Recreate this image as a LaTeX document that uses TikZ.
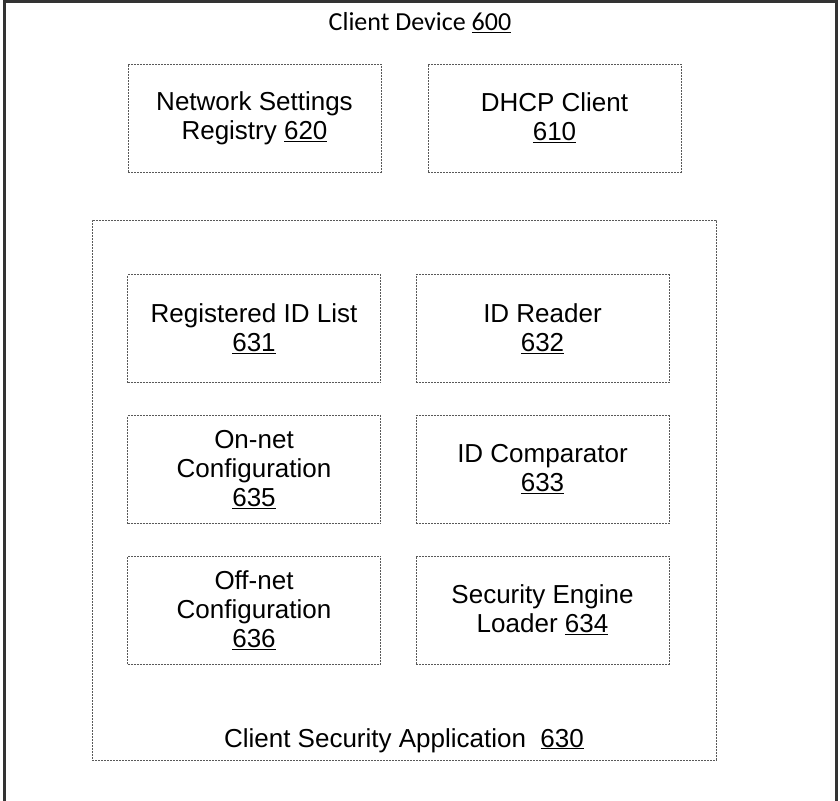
\documentclass[tikz,border=0pt]{standalone}
\usepackage{fontspec}
\setmainfont{Liberation Sans}
\newfontfamily\calfont{Carlito}
\begin{document}
\begin{tikzpicture}[x=1pt,y=-1pt,
  box/.style={draw=black!65, line width=0.8pt, dash pattern=on 2pt off 1pt,
    inner sep=0pt, align=center, font=\fontsize{26}{29}\selectfont},
  smallbox/.style={box, minimum width=253pt, minimum height=108pt},
  lbl/.style={inner sep=0pt, font=\fontsize{26}{29}\selectfont}]
\useasboundingbox (0,0) rectangle (840,800);
\draw[line width=3pt, black!80] (4,803) -- (4,2) -- (836,2) -- (836,803);
\node[lbl, font=\calfont\fontsize{26}{29}\selectfont, anchor=base] (t600) at (420,31) {Client Device \underline{600}};
\node[smallbox] (n620) at (254.5,118) {Network Settings\\Registry \underline{620}};
\node[smallbox] (n610) at (554.5,118) {DHCP Client\\\underline{610}};
\node[box, minimum width=624pt, minimum height=540pt] (n630) at (404,490) {};
\node[lbl, anchor=base] (t630) at (404,747) {Client Security Application\ \ \underline{630}};
\node[smallbox] (n631) at (254,328.5) {Registered ID List\\\underline{631}};
\node[smallbox] (n632) at (542.5,328.5) {ID Reader\\\underline{632}};
\node[smallbox] (n635) at (254,469.5) {On-net\\Configuration\\\underline{635}};
\node[smallbox] (n633) at (542.5,469.5) {ID Comparator\\\underline{633}};
\node[smallbox] (n636) at (254,610) {Off-net\\Configuration\\\underline{636}};
\node[smallbox] (n634) at (542.5,610) {Security Engine\\Loader \underline{634}};
\end{tikzpicture}
\end{document}
